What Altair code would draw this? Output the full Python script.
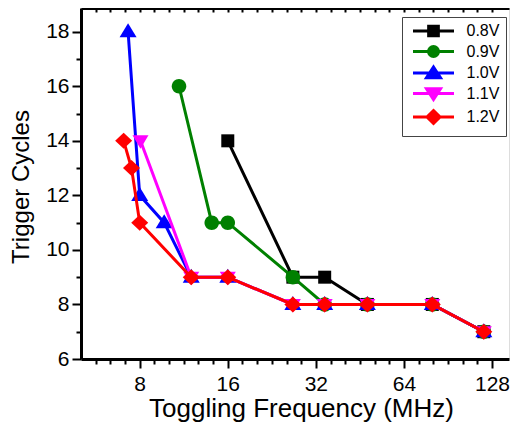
import altair as alt
import pandas as pd

# ---------------- data ----------------
series = ["0.8V", "0.9V", "1.0V", "1.1V", "1.2V"]
colors = ["#000000", "#008000", "#0000FF", "#FF00FF", "#FF0000"]

freq_08 = [16, 26.7, 34.3, 48, 80, 120]
cyc_08 = [14, 9, 9, 8, 8, 7]
freq_09 = [10.9, 14.1, 16, 26.7, 34.3, 48, 80, 120]
cyc_09 = [16, 11, 11, 9, 8, 8, 8, 7]
freq_10 = [7.3, 8.0, 9.7, 12, 16, 26.7, 34.3, 48, 80, 120]
cyc_10 = [18, 12, 11, 9, 9, 8, 8, 8, 8, 7]
freq_11 = [8.05, 12, 16, 26.7, 34.3, 48, 80, 120]
cyc_11 = [14, 9, 9, 8, 8, 8, 8, 7]
freq_12 = [7.05, 7.5, 8.0, 12, 16, 26.7, 34.3, 48, 80, 120]
cyc_12 = [14, 13, 11, 9, 9, 8, 8, 8, 8, 7]

x_ticks = [8, 16, 32, 64, 128]
y_ticks = [6, 8, 10, 12, 14, 16, 18]
y_minor = [7, 9, 11, 13, 15, 17]

freqs = [freq_08, freq_09, freq_10, freq_11, freq_12]
cycs = [cyc_08, cyc_09, cyc_10, cyc_11, cyc_12]

rows = []
for s, fl, cl in zip(series, freqs, cycs):
    for f, c in zip(fl, cl):
        rows.append({"series": s, "freq": f, "cycles": c})
df = pd.DataFrame(rows)

# minor ticks: 5 per octave, evenly spaced in log space
x_minor = [8 * 2 ** (k / 6) for k in range(-3, 25) if k % 6 != 0]

# ---------------- styling ----------------
FONT = "Liberation Sans"
xscale = alt.Scale(type="log", base=2, domain=[5.04, 146.3], nice=False)
yscale = alt.Scale(domain=[6, 18.87], nice=False, zero=False)

marker_paths = [
    "M-1.3,-1.3H1.3V1.3H-1.3Z",
    "M1.45,0A1.45,1.45,0,1,1,-1.45,0A1.45,1.45,0,1,1,1.45,0Z",
    "M0,-1.68L1.7,1.12L-1.7,1.12Z",
    "M-1.6,-1.1L1.6,-1.1L0,1.6Z",
    "M0,-1.6L1.7,0L0,1.6L-1.7,0Z",
]
legend_line = "M-4.1,0H4.1"
legend_paths = [
    "M-0.97,-0.97H0.97V0.97H-0.97Z" + legend_line,
    "M1,0A1,1,0,1,1,-1,0A1,1,0,1,1,1,0Z" + legend_line,
    "M0,-1.2L1.4,0.95L-1.4,0.95Z" + legend_line,
    "M-1.4,-0.95L1.4,-0.95L0,1.2Z" + legend_line,
    "M0,-1.3L1.3,0L0,1.3L-1.3,0Z" + legend_line,
]

common_axis = dict(
    grid=False, labelFont=FONT, labelColor="black", titleFont=FONT,
    titleColor="black", titleFontWeight="normal", tickColor="black",
    domainColor="black", labelFlush=False, labelOverlap=False,
)

x_major = alt.Axis(
    orient="bottom", values=x_ticks, format="d",
    title="Toggling Frequency (MHz)", titleFontSize=26,
    titleX=220, titleY=57, titleAlign="center", titleBaseline="alphabetic",
    labelFontSize=21, labelPadding=5, tickSize=9, tickWidth=2,
    domainWidth=3, **common_axis,
)
x_min_ax = alt.Axis(
    orient="bottom", values=x_minor, labels=False, title=None, domain=False,
    tickSize=5, tickWidth=2, grid=False, tickColor="black",
)
x_top_ticks = alt.Axis(
    orient="top", values=x_minor + x_ticks, labels=False, title=None,
    domain=False, tickSize=4, tickWidth=2, grid=False, tickColor="black",
    offset=-4,
)
x_top_line = alt.Axis(
    orient="top", labels=False, title=None, ticks=False, grid=False,
    domain=True, domainColor="black", domainWidth=3,
)
y_major = alt.Axis(
    orient="left", values=y_ticks, format="d",
    title="Trigger Cycles", titleFontSize=24, titleAngle=270,
    titleX=-60, titleY=178.5, titleAlign="center", titleBaseline="middle",
    labelFontSize=21, labelPadding=3, tickSize=9, tickWidth=2,
    domainWidth=3, **common_axis,
)
y_min_ax = alt.Axis(
    orient="left", values=y_minor, labels=False, title=None, domain=False,
    tickSize=5, tickWidth=2, grid=False, tickColor="black",
)

base = alt.Chart(df)

layers = []
for xa, ya in [(x_major, y_major), (x_min_ax, y_min_ax), (x_top_ticks, None), (x_top_line, None)]:
    layers.append(
        base.mark_point(opacity=0, size=1).encode(
            x=alt.X("freq:Q", scale=xscale, axis=xa),
            y=alt.Y("cycles:Q", scale=yscale, axis=ya),
        )
    )

for s, col, path in zip(series, colors, marker_paths):
    sub = base.transform_filter(alt.datum.series == s)
    layers.append(
        sub.mark_line(strokeWidth=3, color=col).encode(
            x=alt.X("freq:Q", scale=xscale, axis=None),
            y=alt.Y("cycles:Q", scale=yscale, axis=None),
        )
    )
    layers.append(
        sub.mark_point(filled=True, shape=path, size=100, color=col,
                       opacity=1, strokeWidth=0).encode(
            x=alt.X("freq:Q", scale=xscale, axis=None),
            y=alt.Y("cycles:Q", scale=yscale, axis=None),
        )
    )

leg = alt.Legend(
    title=None, orient="none", legendX=321, legendY=9,
    padding=6, strokeColor="#444444", fillColor="white",
    labelFont=FONT, labelFontSize=16, labelColor="black",
    symbolSize=100, symbolStrokeWidth=3, symbolOpacity=1,
    symbolOffset=17.5, labelOffset=25, rowPadding=-1.5,
)

layers.append(
    base.transform_filter("false").mark_point(filled=True, opacity=1, size=100).encode(
        x=alt.X("freq:Q", scale=xscale, axis=None),
        y=alt.Y("cycles:Q", scale=yscale, axis=None),
        color=alt.Color("series:N", scale=alt.Scale(domain=series, range=colors), legend=leg),
        shape=alt.Shape("series:N", scale=alt.Scale(domain=series, range=legend_paths), legend=leg),
        stroke=alt.Stroke("series:N", scale=alt.Scale(domain=series, range=colors), legend=leg),
    )
)

chart = (
    alt.layer(*layers)
    .resolve_axis(x="independent", y="independent")
    .properties(
        width=428, height=351, autosize="none",
        padding={"left": 73, "top": 0, "right": 1, "bottom": 65},
    )
    .configure_view(strokeWidth=0)
    .configure_legend(labelFontSize=16, labelFont=FONT, labelColor="black")
    .configure(font=FONT)
)

chart.save("out.html", embed_options={"renderer": "svg", "actions": False})
